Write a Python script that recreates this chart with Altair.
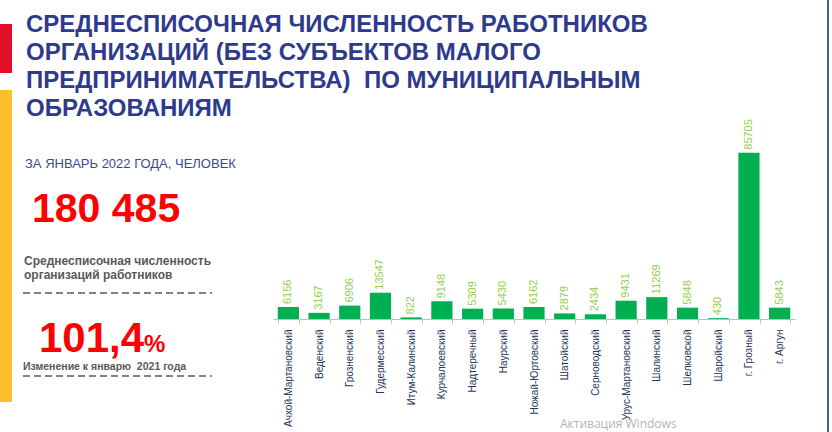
import altair as alt
import pandas as pd

districts = ["Ачхой-Мартановский", "Веденский", "Грозненский", "Гудермесский",
             "Итум-Калинский", "Курчалоевский", "Надтеречный", "Наурский",
             "Ножай-Юртовский", "Шатойский", "Серноводский", "Урус-Мартановский",
             "Шалинский", "Шелковской", "Шаройский", "г. Грозный", "г. Аргун"]
workers = [6156, 3167, 6906, 13547, 822, 9148, 5309, 5430, 6162, 2879, 2434,
           9431, 11269, 5848, 430, 85705, 5843]

title_lines = ["СРЕДНЕСПИСОЧНАЯ ЧИСЛЕННОСТЬ РАБОТНИКОВ",
               "ОРГАНИЗАЦИЙ (БЕЗ СУБЪЕКТОВ МАЛОГО",
               "ПРЕДПРИНИМАТЕЛЬСТВА)\u00a0 ПО МУНИЦИПАЛЬНЫМ",
               "ОБРАЗОВАНИЯМ"]
period_text = "ЗА ЯНВАРЬ 2022 ГОДА, ЧЕЛОВЕК"
total_text = "180 485"
total_caption = ["Среднесписочная численность", "организаций работников"]
change_value = "101,4"
change_unit = "%"
change_caption = "Изменение к январю\u00a0 2021 года"
watermark = "Активация Windows"

df = pd.DataFrame({"district": districts, "workers": workers})

# plot area origin in page pixels
OX, OY = 273, 125
PW, PH = 522, 194


def px(x):
    return alt.value(x - OX)


def py(y):
    return alt.value(y - OY)


one = alt.Data(values=[{"k": 1}])

x_enc = alt.X("district:N", sort=districts, title=None,
              scale=alt.Scale(paddingInner=0.31, paddingOuter=0.155),
              axis=alt.Axis(labelAngle=-90, labelFontSize=10, labelColor="#1c355a",
                            labelFont="Liberation Sans", labelPadding=6,
                            domainColor="#bfbfbf", tickColor="#bfbfbf", tickSize=4,
                            tickBand="extent", labelLimit=200))
y_enc = alt.Y("workers:Q", scale=alt.Scale(domain=[0, 100000]), axis=None)

bars = alt.Chart(df).mark_bar(color="#00b050").encode(x=x_enc, y=y_enc)
labels = alt.Chart(df).mark_text(angle=270, align="left", baseline="middle", dx=3,
                                 color="#92d050", fontSize=11,
                                 font="Liberation Sans").encode(
    x=alt.X("district:N", sort=districts), y="workers:Q", text="workers:Q")

title = alt.Chart(one).mark_text(text=title_lines, align="left", baseline="alphabetic",
                                 fontSize=24, fontWeight="bold", lineHeight=28,
                                 color="#2e3a8c", font="Liberation Sans").encode(
    x=px(26), y=py(32))

red_stripe = alt.Chart(one).mark_rect(color="#e30f2a").encode(
    x=px(0), x2=px(12), y=py(24), y2=py(73))
yellow_stripe = alt.Chart(one).mark_rect(color="#fdbf2d").encode(
    x=px(0), x2=px(12), y=py(90), y2=py(402))
right_line = alt.Chart(one).mark_rule(color="#4a5f8c", strokeWidth=2).encode(
    x=px(828), y=py(0), y2=py(432))

period = alt.Chart(one).mark_text(text=period_text, align="left", baseline="alphabetic",
                                  fontSize=13, color="#3b4a8c",
                                  font="Liberation Sans").encode(x=px(25), y=py(168))
total = alt.Chart(one).mark_text(text=total_text, align="left", baseline="alphabetic",
                                 fontSize=41, fontWeight="bold", color="#ff0000",
                                 font="Liberation Sans").encode(x=px(32), y=py(222))
caption = alt.Chart(one).mark_text(text=total_caption, align="left", baseline="alphabetic",
                                   fontSize=12, fontWeight="bold", lineHeight=13.5,
                                   color="#595959", font="Liberation Sans").encode(
    x=px(24), y=py(265))
dash1 = alt.Chart(one).mark_rule(color="#595959", strokeDash=[7, 4], strokeWidth=1.3).encode(
    x=px(23), x2=px(212), y=py(293))
change = alt.Chart(one).mark_text(text=change_value, align="left", baseline="alphabetic",
                                  fontSize=42, fontWeight="bold", color="#ff0000",
                                  font="Liberation Sans").encode(x=px(39), y=py(352))
unit = alt.Chart(one).mark_text(text=change_unit, align="left", baseline="alphabetic",
                                fontSize=24, fontWeight="bold", color="#ff0000",
                                font="Liberation Sans").encode(x=px(144), y=py(352))
change_cap = alt.Chart(one).mark_text(text=change_caption, align="left",
                                      baseline="alphabetic", fontSize=10.5,
                                      fontWeight="bold", color="#595959",
                                      font="Liberation Sans").encode(x=px(23), y=py(370))
dash2 = alt.Chart(one).mark_rule(color="#595959", strokeDash=[7, 4], strokeWidth=1.3).encode(
    x=px(23), x2=px(212), y=py(376))
wm = alt.Chart(one).mark_text(text=watermark, align="left", baseline="middle",
                              fontSize=12, color="#b4b4b4",
                              font="Open Sans").encode(x=px(560), y=py(424))

chart = alt.layer(
    red_stripe, yellow_stripe, right_line, title, period, total, caption, dash1,
    change, unit, change_cap, dash2, wm, bars, labels
).properties(
    width=PW, height=PH,
    autosize=alt.AutoSizeParams(type="none"),
    padding={"left": OX, "top": OY, "right": 832 - OX - PW, "bottom": 432 - OY - PH},
    background="white",
).configure_view(stroke=None)

chart.save("out.html", embed_options={"renderer": "svg", "actions": False})
